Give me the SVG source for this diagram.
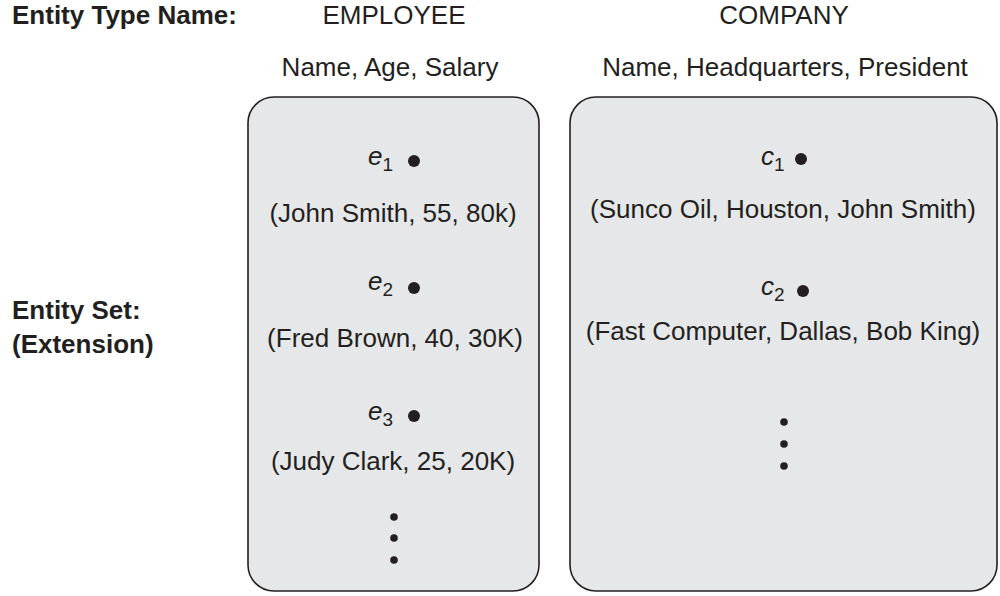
<svg xmlns="http://www.w3.org/2000/svg" width="1000" height="596" viewBox="0 0 1000 596">
<style>
text{font-family:"Liberation Sans",Arial,sans-serif;font-size:26px;fill:#231f20}
.b{font-weight:bold}
.m{text-anchor:middle}
.box{fill:#e6e7e8;stroke:#231f20;stroke-width:1.6}
.dot{fill:#231f20}
.sub{font-size:19px}
.it{font-style:italic}
</style>
<rect width="1000" height="596" fill="#fff"/>
<g id="labels">
<text class="b" x="12" y="24">Entity Type Name:</text>
<text class="b" x="12" y="319">Entity Set:</text>
<text class="b" x="12" y="353">(Extension)</text>
</g>
<g id="employee">
<text class="m" x="394" y="24">EMPLOYEE</text>
<text class="m" x="390" y="76">Name, Age, Salary</text>
<rect class="box" x="248" y="97" width="291" height="494" rx="26"/>
<text x="368" y="165"><tspan class="it">e</tspan><tspan class="sub" dy="6">1</tspan></text>
<circle class="dot" cx="414" cy="161" r="6"/>
<text class="m" x="393" y="222">(John Smith, 55, 80k)</text>
<text x="368" y="290"><tspan class="it">e</tspan><tspan class="sub" dy="6">2</tspan></text>
<circle class="dot" cx="414" cy="288" r="6"/>
<text class="m" x="395" y="347">(Fred Brown, 40, 30K)</text>
<text x="368" y="420"><tspan class="it">e</tspan><tspan class="sub" dy="6">3</tspan></text>
<circle class="dot" cx="414" cy="416" r="6"/>
<text class="m" x="393" y="470">(Judy Clark, 25, 20K)</text>
<circle class="dot" cx="394" cy="517" r="3.8"/>
<circle class="dot" cx="394" cy="538" r="3.8"/>
<circle class="dot" cx="394" cy="560" r="3.8"/>
</g>
<g id="company">
<text class="m" x="784" y="24">COMPANY</text>
<text class="m" x="785" y="76">Name, Headquarters, President</text>
<rect class="box" x="570" y="97" width="427" height="494" rx="26"/>
<text x="761" y="165"><tspan class="it">c</tspan><tspan class="sub" dy="6">1</tspan></text>
<circle class="dot" cx="801" cy="159" r="6"/>
<text class="m" x="783" y="218">(Sunco Oil, Houston, John Smith)</text>
<text x="761" y="295"><tspan class="it">c</tspan><tspan class="sub" dy="6">2</tspan></text>
<circle class="dot" cx="803" cy="291" r="6"/>
<text class="m" x="783" y="340">(Fast Computer, Dallas, Bob King)</text>
<circle class="dot" cx="784" cy="422" r="3.8"/>
<circle class="dot" cx="784" cy="444" r="3.8"/>
<circle class="dot" cx="784" cy="466" r="3.8"/>
</g>
<g id="connectors"></g>
</svg>
